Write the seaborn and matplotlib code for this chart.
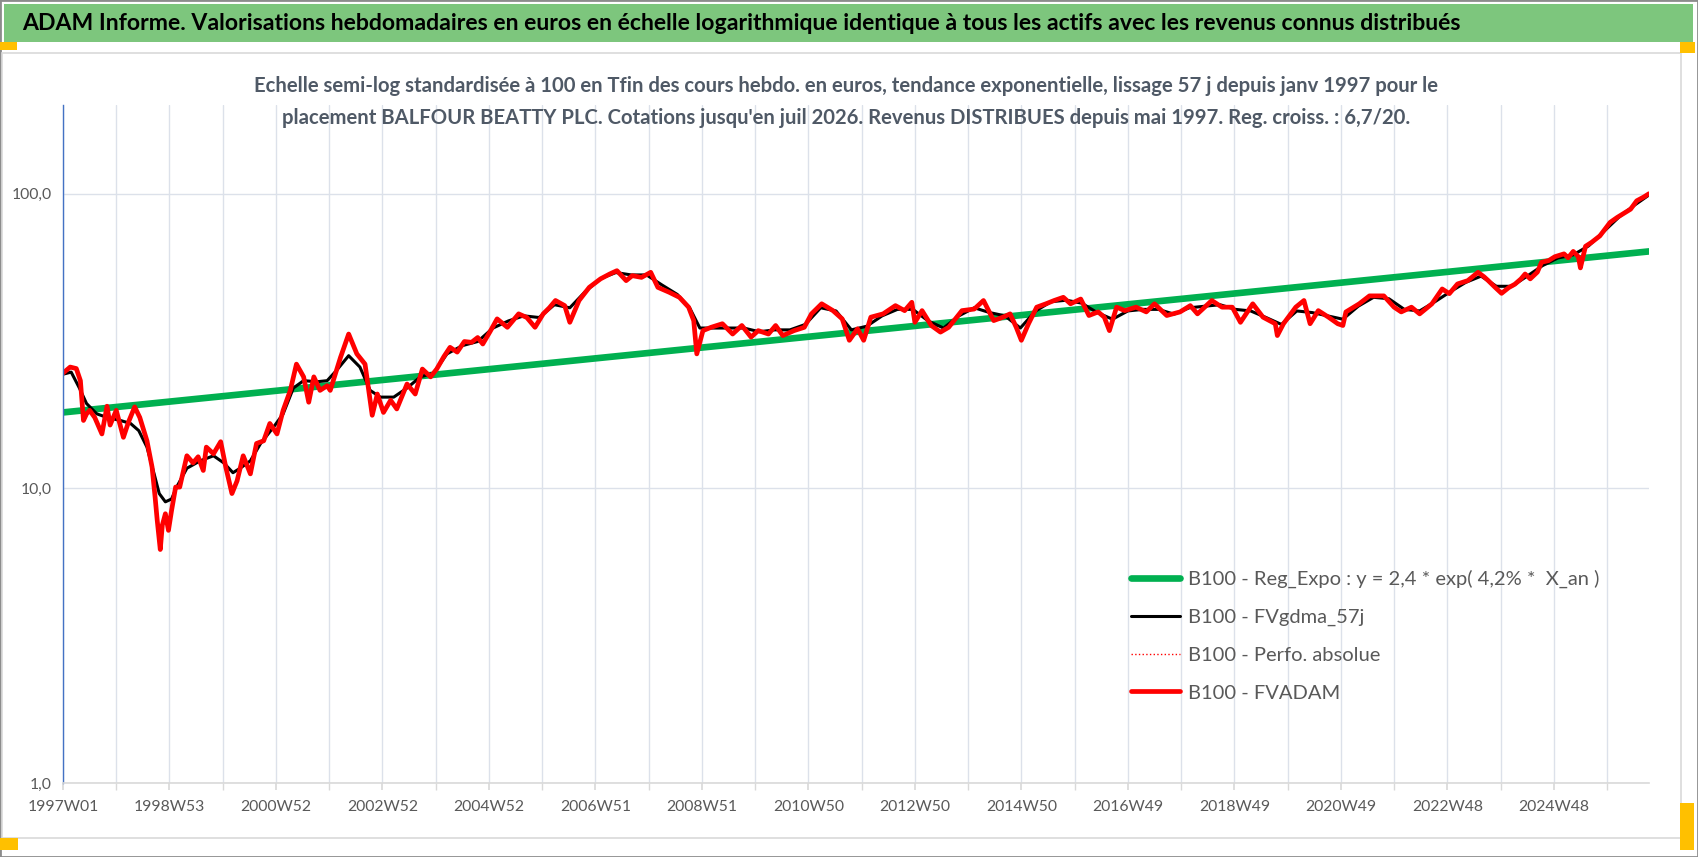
import numpy as np
import pandas as pd
import seaborn as sns
import matplotlib.pyplot as plt
from matplotlib.patches import Rectangle

# Axis labels (one every 104 weeks, gridline every 52 weeks)
week_labels = ["1997W01", "1998W53", "2000W52", "2002W52", "2004W52", "2006W51",
               "2008W51", "2010W50", "2012W50", "2014W50", "2016W49", "2018W49",
               "2020W49", "2022W48", "2024W48"]
label_step = 104
grid_step = 52
last_week = 1549

# B100 - FVADAM (weekly valuation)
adam_weeks = [0, 7, 13, 17, 20, 23, 26, 31, 38, 43, 46, 52, 59, 64, 70, 75, 82, 87, 90, 92,
              95, 97, 100, 103, 106, 110, 114, 121, 127, 132, 137, 140, 147, 154, 159, 165,
              170, 176, 183, 189, 196, 202, 209, 215, 222, 228, 235, 240, 245, 251, 258, 261,
              271, 279, 287, 295, 302, 307, 313, 320, 326, 336, 344, 351, 359, 365, 372, 378,
              385, 392, 399, 405, 410, 417, 424, 434, 445, 453, 461, 469, 475, 481, 490, 495,
              504, 514, 525, 534, 541, 550, 556, 565, 574, 581, 592, 602, 611, 616, 619, 625,
              633, 644, 654, 663, 672, 679, 689, 696, 703, 714, 724, 731, 741, 752, 761, 768,
              776, 782, 789, 801, 813, 822, 829, 832, 839, 848, 857, 865, 878, 890, 899, 909,
              918, 925, 931, 936, 943, 951, 960, 968, 977, 984, 994, 1002, 1011, 1017, 1022,
              1029, 1037, 1048, 1058, 1066, 1078, 1091, 1101, 1108, 1122, 1132, 1142, 1150,
              1162, 1172, 1184, 1186, 1192, 1204, 1212, 1218, 1226, 1236, 1245, 1250, 1253,
              1266, 1276, 1290, 1300, 1307, 1317, 1325, 1337, 1347, 1354, 1362, 1372, 1382,
              1388, 1392, 1399, 1405, 1412, 1418, 1424, 1428, 1433, 1440, 1444, 1451, 1457,
              1466, 1470, 1475, 1480, 1482, 1487, 1493, 1501, 1511, 1518, 1526, 1531, 1537,
              1544, 1549]
adam_values = [24.6, 25.8, 25.5, 23.2, 17.0, 17.9, 18.4, 17.4, 15.3, 19.0, 16.4, 18.4, 14.9,
               16.8, 18.9, 17.4, 14.5, 11.8, 9.3, 7.8, 6.2, 7.5, 8.2, 7.2, 8.4, 10.1, 10.1,
               12.9, 12.2, 12.8, 11.5, 13.8, 13.1, 14.4, 11.8, 9.6, 10.6, 12.9, 11.2, 14.2,
               14.5, 16.6, 15.3, 18.4, 21.5, 26.4, 23.9, 19.6, 23.9, 21.5, 22.3, 21.5, 27.8,
               33.4, 28.6, 26.4, 17.7, 20.9, 18.1, 19.9, 18.6, 22.6, 20.9, 25.4, 23.9, 25.4,
               28.0, 30.1, 29.0, 31.5, 31.3, 32.5, 30.9, 34.0, 37.6, 35.2, 39.1, 38.0, 35.2,
               39.1, 41.0, 43.4, 41.7, 36.6, 43.4, 48.1, 51.4, 53.4, 54.8, 50.7, 52.7, 52.0,
               54.1, 48.1, 46.3, 44.5, 41.2, 37.1, 28.6, 34.3, 35.2, 36.2, 33.4, 35.7, 32.6,
               34.3, 33.4, 35.7, 33.0, 34.3, 35.2, 39.1, 42.3, 40.1, 37.6, 31.8, 34.8, 31.8,
               38.1, 39.1, 41.7, 40.1, 42.8, 36.6, 40.1, 35.7, 33.9, 35.2, 40.1, 40.6, 43.4,
               37.1, 38.1, 39.1, 35.2, 31.8, 36.2, 41.2, 42.3, 43.4, 44.5, 42.3, 43.9, 38.6,
               39.7, 38.1, 34.3, 41.2, 40.1, 41.2, 39.7, 42.3, 38.6, 39.7, 41.7, 39.1, 43.4,
               41.2, 41.2, 36.6, 42.3, 38.1, 36.2, 33.0, 36.2, 41.2, 43.4, 36.2, 40.1, 38.1,
               36.2, 35.7, 39.7, 42.3, 45.0, 45.0, 41.2, 39.7, 41.2, 39.1, 42.3, 47.5, 45.8,
               49.4, 50.7, 54.1, 52.2, 50.7, 48.0, 45.9, 48.0, 49.3, 51.4, 53.4, 51.4, 54.2,
               58.5, 59.3, 61.1, 62.5, 60.6, 63.7, 61.1, 56.0, 66.3, 68.4, 71.9, 79.9, 83.1,
               86.4, 88.6, 94.6, 97.5, 100.0]

# B100 - FVgdma_57j (smoothed line)
gdma_weeks = [0, 8, 16, 23, 33, 43, 56, 66, 74, 82, 89, 94, 100, 106, 111, 121, 134, 147, 157,
              166, 173, 183, 193, 206, 215, 225, 235, 248, 258, 267, 279, 290, 300, 310, 323,
              336, 349, 362, 375, 390, 405, 420, 435, 450, 465, 480, 495, 510, 525, 540, 555,
              570, 585, 600, 612, 622, 635, 650, 665, 680, 695, 710, 725, 740, 755, 770, 785,
              800, 815, 830, 845, 860, 875, 890, 905, 920, 935, 950, 965, 980, 995, 1010, 1025,
              1040, 1055, 1070, 1085, 1100, 1115, 1130, 1145, 1160, 1175, 1190, 1205, 1220,
              1235, 1250, 1265, 1280, 1295, 1310, 1325, 1340, 1355, 1370, 1385, 1400, 1415,
              1430, 1445, 1460, 1475, 1490, 1505, 1520, 1535, 1549]
gdma_values = [24.4, 24.8, 21.9, 19.4, 17.9, 17.4, 17.0, 16.6, 15.7, 13.8, 11.2, 9.6, 9.0,
               9.2, 10.1, 11.7, 12.4, 12.9, 12.2, 11.3, 11.7, 12.4, 14.2, 16.2, 17.9, 21.9,
               23.2, 23.0, 23.2, 25.1, 28.2, 25.8, 21.5, 20.4, 20.4, 21.9, 23.9, 24.6, 28.6,
               30.5, 31.5, 35.0, 37.0, 38.5, 38.0, 42.0, 41.0, 46.5, 51.5, 54.0, 53.0, 53.0,
               49.0, 45.5, 41.0, 35.0, 35.0, 35.0, 35.0, 34.0, 34.5, 34.5, 36.0, 41.0, 40.0,
               34.5, 35.5, 38.5, 40.5, 40.5, 37.0, 35.0, 38.5, 41.0, 39.5, 38.5, 35.0, 40.0,
               43.0, 43.5, 42.5, 39.5, 37.5, 40.0, 40.5, 40.5, 39.0, 41.0, 41.5, 42.0, 40.5,
               40.0, 38.0, 36.0, 40.0, 39.5, 38.5, 37.5, 41.5, 44.5, 44.0, 40.5, 40.0, 43.0,
               46.5, 50.0, 52.5, 48.5, 48.5, 52.5, 57.0, 60.5, 62.0, 66.5, 74.5, 83.5, 91.5,
               99.0]

# B100 - Reg_Expo (straight line in log scale, two end values)
reg_weeks = [0, 1549]
reg_values = [18.1, 63.7]

title = ("ADAM Informe. Valorisations hebdomadaires en euros en échelle logarithmique "
         "identique à tous les actifs avec les revenus connus distribués")
subtitle = ("Echelle semi-log standardisée à 100 en Tfin des cours hebdo. en euros, tendance "
            "exponentielle, lissage 57 j depuis janv 1997 pour le\nplacement BALFOUR BEATTY "
            "PLC. Cotations jusqu'en juil 2026. Revenus DISTRIBUES depuis mai 1997. Reg. "
            "croiss. : 6,7/20.")

sns.set_theme(style="white")
plt.rcParams['font.family'] = ['Lato', 'DejaVu Sans']

W, H = 1698, 857
fig = plt.figure(figsize=(W / 100, H / 100), dpi=100)
fig.patch.set_facecolor("white")

# frame decorations (green title bar, borders, handles)
fig.patches.append(Rectangle((0, 0), 1, 1, transform=fig.transFigure, fill=False,
                             ec="#8C8C8C", lw=2))
fig.patches.append(Rectangle((2 / W, 1 - 838 / H), 1679 / W, 785 / H,
                             transform=fig.transFigure, fill=False, ec="#D9D9D9", lw=1.2))
fig.patches.append(Rectangle((4 / W, 1 - 42 / H), 1689 / W, 38 / H,
                             transform=fig.transFigure, fc="#7DC67D", ec="none"))
for (x0, y0, x1, y1) in [(0, 42, 17, 50), (1680, 42, 1695, 53),
                         (0, 838, 18, 850), (1680, 803, 1694, 850)]:
    fig.patches.append(Rectangle((x0 / W, 1 - y1 / H), (x1 - x0) / W, (y1 - y0) / H,
                                 transform=fig.transFigure, fc="#FFC000", ec="none"))

fig.text(22 / W, 1 - 24 / H, title, ha="left", va="center", fontsize=16.6,
         fontweight="bold", color="black")
fig.text(846 / W, 1 - 102 / H, subtitle, ha="center", va="center", fontsize=14.6,
         fontweight="bold", color="#4F5966", linespacing=1.7)

ax = fig.add_axes([63 / W, 1 - 783 / H, 1586 / W, 678 / H])

sns.lineplot(x=reg_weeks, y=reg_values, ax=ax, color="#00B050", linewidth=4.8,
             label="B100 - Reg_Expo : y = 2,4 * exp( 4,2% *  X_an )")
sns.lineplot(x=gdma_weeks, y=gdma_values, ax=ax, color="black", linewidth=2.2,
             label="B100 - FVgdma_57j")
sns.lineplot(x=adam_weeks, y=adam_values, ax=ax, color="#FF0000", linewidth=1.0,
             linestyle=":", label="B100 - Perfo. absolue")
sns.lineplot(x=adam_weeks, y=adam_values, ax=ax, color="#FF0000", linewidth=3.4,
             label="B100 - FVADAM")

ax.set_yscale("log")
ax.set_ylim(1, 200)
ax.set_xlim(0, last_week)
ax.set_yticks([1, 10, 100])
ax.set_yticklabels(["1,0", "10,0", "100,0"])
ax.minorticks_off()
ax.set_xticks([i * label_step for i in range(len(week_labels))])
ax.set_xticklabels(week_labels)
ax.set_xticks([i * grid_step for i in range(last_week // grid_step + 1)], minor=True)
ax.set_xlabel("")
ax.set_ylabel("")

grid_col = "#DCE1EA"
ax.grid(True, which="major", axis="both", color=grid_col, lw=1)
ax.grid(True, which="minor", axis="x", color=grid_col, lw=1)
ax.set_axisbelow(True)
for s in ["top", "right"]:
    ax.spines[s].set_visible(False)
ax.spines["left"].set_color("#4472C4")
ax.spines["left"].set_linewidth(1)
ax.spines["bottom"].set_color("#D9D9D9")
ax.spines["bottom"].set_linewidth(1.2)
ax.tick_params(axis="x", which="both", length=5, color="#D9D9D9", pad=7,
               labelsize=11.3, labelcolor="#595959", bottom=True)
ax.tick_params(axis="y", which="both", length=0, pad=8, labelsize=11.3,
               labelcolor="#595959", left=True)

leg = ax.legend(loc="upper left", bbox_to_anchor=(1131 / W, 1 - 570 / H),
                bbox_transform=fig.transFigure, frameon=False, fontsize=14.5,
                handlelength=2.45, handletextpad=0.38, labelspacing=1.02,
                borderpad=0, borderaxespad=0)
for t in leg.get_texts():
    t.set_color("#595959")

fig.savefig("out.png", dpi=100)
